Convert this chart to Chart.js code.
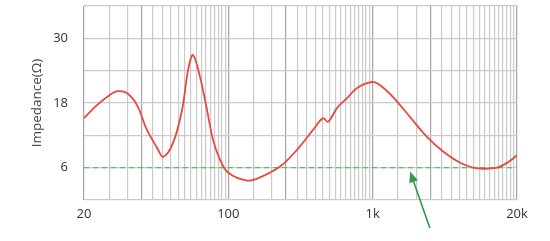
<!DOCTYPE html>
<html>
<head>
<meta charset="utf-8">
<script src="https://cdn.jsdelivr.net/npm/chart.js@4/dist/chart.umd.min.js"></script>
<style>
  html, body { margin: 0; padding: 0; background: #fff; }
  #wrap { width: 550px; height: 241px; }
</style>
</head>
<body>
<div id="wrap"><canvas id="impedanceChart"></canvas></div>
<script>
// frequency positions (axis units) and impedance in ohms
const freqs = [10, 12.3, 15.1, 17.2, 19.9, 23.3, 27.3, 32.1, 35.3, 41.4, 47.8, 52.6, 56.9,
  63.7, 71.2, 78.3, 87.5, 99.5, 135, 166, 228, 299, 386, 453, 491, 567, 665, 780, 990,
  1125, 1385, 1815, 2380, 3075, 4035, 4965, 5825, 7280, 8540, 10000];
const impedance = [15.2, 17.6, 19.5, 20.2, 19.8, 17.6, 13.0, 9.7, 8.0, 10.6, 16.7, 24.1, 26.9,
  22.8, 16.7, 11.2, 7.5, 5.1, 3.6, 4.2, 6.2, 9.3, 13.0, 15.2, 14.5, 17.1, 18.9, 20.8, 21.9,
  21.3, 19.1, 15.4, 11.7, 9.0, 6.9, 6.0, 5.8, 6.0, 6.9, 8.3];
const nominal = 6;

const xTickValues = [10, 100, 1000, 10000];
const xTickLabels = ['20', '100', '1k', '20k'];
const yTickLabels = [6, 18, 30];

// arrow annotation, in data units
const arrowTip = { x: 1815, y: 5.3 };
const arrowTail = { x: 2490, y: -5.2 };

const arrowPlugin = {
  id: 'arrow',
  afterDatasetsDraw(chart) {
    const { ctx, scales: { x, y } } = chart;
    const x1 = x.getPixelForValue(arrowTail.x), y1 = y.getPixelForValue(arrowTail.y);
    const x2 = x.getPixelForValue(arrowTip.x), y2 = y.getPixelForValue(arrowTip.y);
    const ang = Math.atan2(y2 - y1, x2 - x1);
    ctx.save();
    ctx.strokeStyle = '#2f9a4e';
    ctx.fillStyle = '#2f9a4e';
    ctx.lineWidth = 1.6;
    ctx.beginPath();
    ctx.moveTo(x1, y1);
    ctx.lineTo(x2 - 8 * Math.cos(ang), y2 - 8 * Math.sin(ang));
    ctx.stroke();
    ctx.beginPath();
    ctx.moveTo(x2, y2);
    ctx.lineTo(x2 - 11 * Math.cos(ang) + 4.5 * Math.sin(ang), y2 - 11 * Math.sin(ang) - 4.5 * Math.cos(ang));
    ctx.lineTo(x2 - 11 * Math.cos(ang) - 4.5 * Math.sin(ang), y2 - 11 * Math.sin(ang) + 4.5 * Math.cos(ang));
    ctx.closePath();
    ctx.fill();
    ctx.restore();
  }
};

const isDark = v => {
  const m = v / Math.pow(10, Math.floor(Math.log10(v) + 1e-9));
  return Math.abs(m - 1) < 1e-6 || Math.abs(m - 2.5) < 1e-6;
};

new Chart(document.getElementById('impedanceChart'), {
  type: 'line',
  data: {
    datasets: [{
      data: freqs.map((f, i) => ({ x: f, y: impedance[i] })),
      borderColor: '#e8483f',
      borderWidth: 1.8,
      pointRadius: 0,
      tension: 0.35
    }, {
      data: [{ x: 10, y: nominal }, { x: 10000, y: nominal }],
      borderColor: '#5cc05c',
      borderWidth: 1.3,
      borderDash: [5, 4],
      pointRadius: 0
    }]
  },
  plugins: [arrowPlugin],
  options: {
    responsive: true,
    maintainAspectRatio: false,
    animation: false,
    layout: { padding: { top: 6, right: 33, left: 0, bottom: 0 } },
    plugins: { legend: { display: false }, tooltip: { enabled: false } },
    scales: {
      x: {
        type: 'logarithmic',
        min: 10,
        max: 10000,
        afterBuildTicks(scale) {
          const ticks = [];
          [10, 100, 1000].forEach(d => {
            for (let m = 1; m < 10; m += 0.5) ticks.push({ value: m * d });
          });
          ticks.push({ value: 10000 });
          scale.ticks = ticks;
        },
        afterFit(scale) {
          scale.height = 41;
          scale.paddingLeft = 0;
          scale.paddingRight = 0;
        },
        border: { display: false },
        grid: {
          color: ctx => isDark(ctx.tick.value) ? '#a4a4a4' : '#cacaca',
          lineWidth: 1.2,
          drawTicks: false
        },
        ticks: {
          autoSkip: false,
          maxRotation: 0,
          padding: 6,
          color: '#333',
          font: { family: 'Open Sans', size: 13 },
          callback: v => {
            const i = xTickValues.indexOf(v);
            return i >= 0 ? xTickLabels[i] : '';
          }
        }
      },
      y: {
        min: 0,
        max: 36,
        afterFit(scale) {
          scale.width = 84;
          scale.paddingTop = 0;
          scale.paddingBottom = 0;
        },
        border: { display: false },
        grid: { color: '#cacaca', lineWidth: 1.2, drawTicks: false },
        ticks: {
          stepSize: 6,
          padding: 16,
          color: '#333',
          font: { family: 'Open Sans', size: 13 },
          callback: v => yTickLabels.includes(v) ? v : ''
        },
        title: {
          display: true,
          text: 'Impedance(Ω)',
          color: '#444',
          font: { family: 'Open Sans', size: 13.5 },
          padding: { top: 29 }
        }
      }
    }
  }
});
</script>
</body>
</html>
